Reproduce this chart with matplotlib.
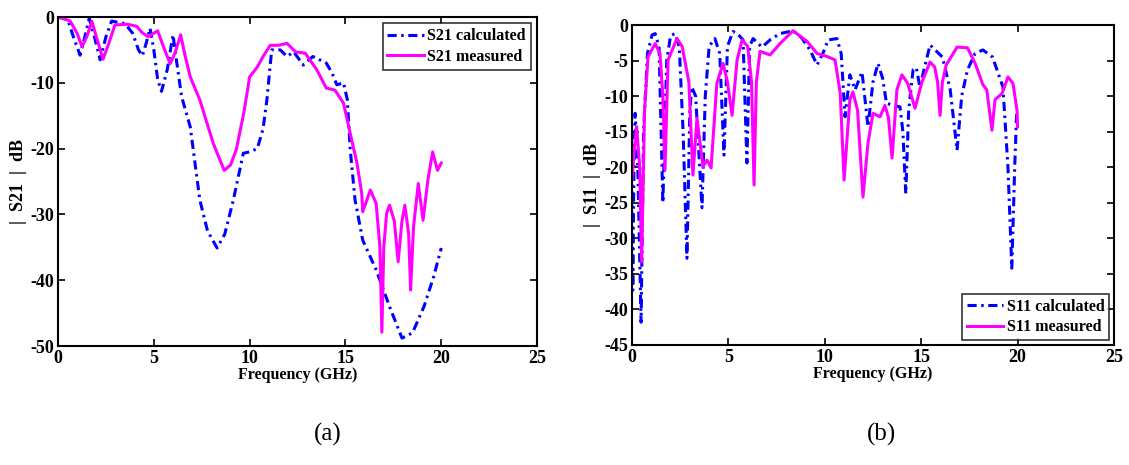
import matplotlib
matplotlib.use("Agg")
import matplotlib.pyplot as plt

# S21: calculated vs measured transmission (dB)
s21_calc_f = [0, 0.5, 0.8, 1.15, 1.4, 1.63, 1.9, 2.2, 2.5, 2.8, 3.1, 3.5, 3.9, 4.2, 4.4, 4.6,
              4.8, 5.0, 5.2, 5.4, 5.7, 6.0, 6.2, 6.45, 6.9, 7.4, 7.8, 8.3, 8.7, 9.15, 9.67,
              10.0, 10.4, 10.7, 10.9, 11.15, 11.6, 11.95, 12.3, 12.8, 13.3, 14.0, 14.3,
              14.55, 14.9, 15.1, 15.25, 15.5, 15.9, 16.6, 17.3, 17.95, 18.5, 19.1, 19.6, 20.0]
s21_calc_db = [0, -0.3, -3, -5.8, -3, -0.2, -3, -6.5, -3, -0.6, -0.8, -1, -2.5, -5, -5.9, -4,
               -1.7, -5, -9.5, -11.3, -8, -2.7, -7, -12.1, -16.7, -27.8, -32.5, -35.1, -33,
               -27.8, -20.7, -20.5, -20, -17, -12.6, -5, -5, -6, -5.3, -7.3, -6, -7, -8.5,
               -10.3, -10, -12.6, -20.2, -27.8, -33.9, -38.4, -44, -48.8, -48, -44, -39.5, -35.1]

s21_meas_f = [0, 0.63, 1.0, 1.25, 1.5, 1.77, 2.05, 2.35, 2.65, 2.97, 3.6, 4.1, 4.4, 4.7, 5.2,
              5.5, 5.85, 6.1, 6.4, 6.6, 6.9, 7.4, 8.1, 8.67, 9.0, 9.3, 9.7, 10.0, 10.4, 10.7,
              11.07, 11.5, 11.95, 12.4, 12.9, 13.5, 14.0, 14.45, 14.9, 15.25, 15.6, 15.85,
              15.9, 16.3, 16.6, 16.8, 16.9, 17.0, 17.15, 17.3, 17.55, 17.75, 17.95, 18.1,
              18.3, 18.4, 18.55, 18.8, 19.05, 19.3, 19.55, 19.8, 20.0]
s21_meas_db = [0, -0.6, -2.5, -4.5, -3, -0.7, -3.5, -6.4, -4, -1.2, -1.1, -1.4, -2.4, -3, -2.1,
               -4.5, -7.1, -5.5, -2.7, -5.5, -9.1, -12.6, -19.2, -23.3, -22.5, -20.2, -14.5,
               -9.1, -7.6, -6, -4.3, -4.3, -4, -5.3, -5.5, -8, -10.8, -11.1, -13.1, -17.7,
               -22.2, -26.8, -29.6, -26.3, -28.3, -35, -47.9, -35, -29.8, -28.6, -31, -37.2,
               -31, -28.6, -33, -41.5, -32, -25.3, -30.9, -24.8, -20.5, -23.3, -22.2]

# S11: calculated vs measured reflection (dB)
s11_calc_f = [0, 0.04, 0.1, 0.16, 0.3, 0.47, 0.6, 0.8, 1.04, 1.2, 1.4, 1.6, 1.8, 2.0, 2.23,
              2.45, 2.65, 2.85, 3.0, 3.1, 3.3, 3.63, 3.8, 4.0, 4.3, 4.55, 4.77, 4.95, 5.24,
              5.5, 5.76, 5.96, 6.1, 6.28, 6.74, 7.2, 7.68, 8.35, 8.8, 9.23, 9.6, 9.9, 10.17,
              10.63, 10.85, 11.05, 11.3, 11.57, 11.93, 12.24, 12.5, 12.76, 13.0, 13.2, 13.55,
              13.9, 14.05, 14.2, 14.35, 14.58, 14.75, 14.93, 15.46, 16.1, 16.5, 16.86, 17.1,
              17.4, 17.8, 18.2, 18.7, 19.24, 19.5, 19.7, 19.85, 19.95]
s11_calc_db = [-17.6, -37.3, -20, -12.4, -20, -41.8, -15, -4, -1.4, -1.2, -3, -25, -5, -1.5,
               -1.2, -3, -15, -32.8, -12, -8.7, -10, -25.7, -10, -3, -1.9, -4, -18.3, -3,
               -0.9, -1.3, -2.1, -19.4, -3, -1.9, -3.1, -2, -1.2, -0.8, -1.8, -3.5, -5.6, -4,
               -2.1, -1.9, -4, -12.9, -7, -9.1, -6.6, -14.3, -8, -5.4, -7.5, -11, -11.3,
               -11.5, -15, -23.7, -12, -6.3, -6, -8.7, -2.8, -4.5, -9, -17.6, -10, -6.3, -4,
               -3.5, -4.5, -8.7, -20, -34.2, -20, -12.4]

s11_meas_f = [0, 0.1, 0.24, 0.4, 0.5, 0.65, 0.83, 1.2, 1.45, 1.6, 1.71, 1.87, 2.33, 2.6, 2.95,
              3.16, 3.37, 3.68, 3.89, 4.1, 4.4, 4.72, 4.95, 5.19, 5.45, 5.71, 6.0, 6.2, 6.33,
              6.45, 6.64, 7.16, 7.68, 8.35, 9.08, 9.6, 10.1, 10.53, 10.8, 11.0, 11.3, 11.46,
              11.7, 11.98, 12.24, 12.5, 12.86, 13.12, 13.3, 13.49, 13.74, 14.0, 14.3, 14.68,
              15.04, 15.46, 15.7, 15.85, 15.98, 16.1, 16.3, 16.86, 17.4, 17.8, 18.2, 18.4,
              18.67, 18.83, 19.2, 19.5, 19.76, 19.97, 20.0]
s11_meas_db = [-21.8, -18, -14.3, -20, -33.3, -12, -4.5, -2.6, -4, -10, -20.4, -4.9, -1.9, -3,
               -8, -21.1, -13.1, -19.9, -19, -20.1, -8.2, -5.4, -8, -12.7, -4.9, -2.1, -3, -8,
               -22.5, -8, -3.7, -4.2, -2.6, -0.8, -2.3, -4, -4.4, -4.9, -9.6, -21.8, -10.5,
               -9.4, -12, -24.2, -16.6, -12.4, -12.9, -11.3, -13, -18.7, -9.1, -7, -8.2,
               -11.7, -8, -5.2, -5.9, -8, -12.7, -8, -5.6, -3.1, -3.2, -5.4, -8.4, -9.1,
               -14.8, -10.5, -9.6, -7.3, -8.2, -12, -14.3]

plt.rcParams['font.family'] = ['Liberation Serif', 'DejaVu Serif']
plt.rcParams['font.weight'] = 'bold'
plt.rcParams['axes.unicode_minus'] = False  # plain hyphen for negative ticks

calc_style = dict(color='#0000ff', lw=2.2, dashes=(3.0, 1.5, 0.8, 1.5))
meas_style = dict(color='#ff00ff', lw=2.2)


def style_axes(ax, ylim, yticks, ylabel):
    ax.set_xlim(0, 25)
    ax.set_ylim(*ylim)
    ax.set_xticks([0, 5, 10, 15, 20, 25])
    ax.set_yticks(yticks)
    ax.tick_params(direction='in', top=True, right=True, length=5, width=1.2,
                   labelsize=13, pad=3)
    for lab in ax.get_xticklabels() + ax.get_yticklabels():
        lab.set_fontweight('bold')
    for sp in ax.spines.values():
        sp.set_linewidth(1.5)
    ax.set_xlabel('Frequency (GHz)', fontsize=11.5, fontweight='bold', labelpad=0)
    ax.set_ylabel(ylabel, fontsize=13, fontweight='bold', labelpad=2)


fig = plt.figure(figsize=(11.29, 4.65), dpi=100)

# (a) transmission
ax1 = fig.add_axes([0.0514, 0.2559, 0.4243, 0.7075])
ax1.plot(s21_calc_f, s21_calc_db, label='S21 calculated', **calc_style)
ax1.plot(s21_meas_f, s21_meas_db, label='S21 measured', **meas_style)
style_axes(ax1, (-50, 0), [-50, -40, -30, -20, -10, 0], '|  S21  |  dB')
leg1 = ax1.legend(loc='upper right', fontsize=11.5, frameon=True, fancybox=False,
                  borderpad=0.3, handlelength=2.3, handletextpad=0.2, labelspacing=0.3,
                  borderaxespad=0.4)
leg1.get_frame().set_edgecolor('black')
leg1.get_frame().set_linewidth(1.2)

# (b) reflection
ax2 = fig.add_axes([0.5598, 0.2581, 0.4269, 0.688])
ax2.plot(s11_calc_f, s11_calc_db, label='S11 calculated', **calc_style)
ax2.plot(s11_meas_f, s11_meas_db, label='S11 measured', **meas_style)
style_axes(ax2, (-45, 0), [-45, -40, -35, -30, -25, -20, -15, -10, -5, 0], '|  S11  |  dB')
leg2 = ax2.legend(loc='lower right', fontsize=11.5, frameon=True, fancybox=False,
                  borderpad=0.3, handlelength=2.3, handletextpad=0.2, labelspacing=0.3,
                  borderaxespad=0.3)
leg2.get_frame().set_edgecolor('black')
leg2.get_frame().set_linewidth(1.2)

fig.text(0.2905, 0.065, '(a)', ha='center', va='center', fontsize=18, fontweight='normal')
fig.text(0.781, 0.065, '(b)', ha='center', va='center', fontsize=18, fontweight='normal')

fig.savefig('out.png', dpi=100)
